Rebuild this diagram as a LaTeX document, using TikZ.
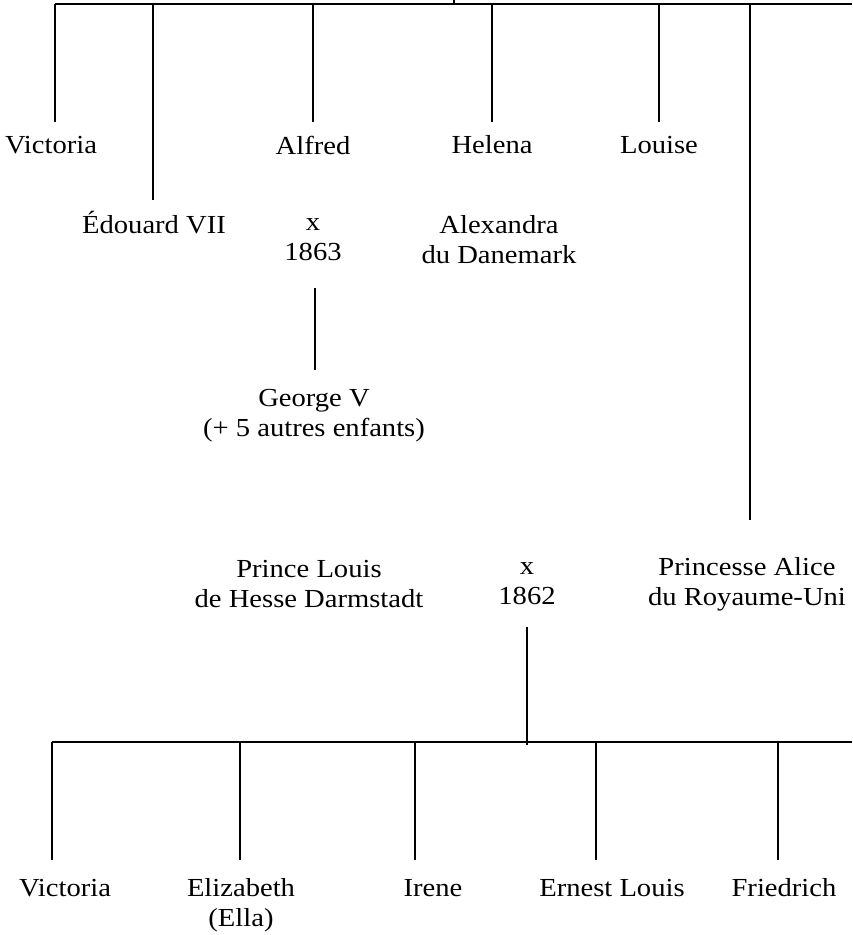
\documentclass[tikz,border=0pt]{standalone}
\usepackage{fontspec}
\setmainfont[FakeStretch=1.1]{Liberation Serif}
\begin{document}
\begin{tikzpicture}[x=1pt,y=-1pt,
  conn/.style={line width=1.2pt,draw=black},
  lbl/.style={font=\fontsize{26}{30}\selectfont,align=center,inner sep=0pt,anchor=center}]
\useasboundingbox (0,0) rectangle (852,935);
% generation 1 labels
\node[lbl] (vic)  at (51,145)  {Victoria};
\node[lbl] (alf)  at (313,145) {Alfred};
\node[lbl] (hel)  at (492,145) {Helena};
\node[lbl] (lou)  at (659,145) {Louise};
\node[lbl] (edo)  at (154,223) {Édouard VII};
\node[lbl] (m1)   at (313,240) {x\\1863};
\node[lbl] (alex) at (499,240) {Alexandra\\du Danemark};
\node[lbl] (geo)  at (314,416) {George V\\(+ 5 autres enfants)};
\node[lbl] (pl)   at (309,584) {Prince Louis\\de Hesse Darmstadt};
\node[lbl] (m2)   at (527,584) {x\\1862};
\node[lbl] (ali)  at (747,584) {Princesse Alice\\du Royaume-Uni};
% generation 3 labels
\node[lbl] (c1) at (65,888)  {Victoria};
\node[lbl] (c2) at (241,905) {Elizabeth\\(Ella)};
\node[lbl] (c3) at (433,888) {Irene};
\node[lbl] (c4) at (612,888) {Ernest Louis};
\node[lbl] (c5) at (784,888) {Friedrich};
% top bar
\coordinate (tL) at (55,4);
\coordinate (tR) at (852,4);
\coordinate (tick) at (454,0);
\draw[conn] (tL) -- (tR);
\draw[conn] (tick) -- (tick |- tL);
\coordinate (eVic) at (55,122);
\coordinate (eEdo) at (153,200);
\coordinate (eAlf) at (313,122);
\coordinate (eHel) at (492,122);
\coordinate (eLou) at (659,122);
\coordinate (eAli) at (750,520);
\foreach \e in {eVic,eEdo,eAlf,eHel,eLou,eAli}
  \draw[conn] (\e |- tL) -- (\e);
% George V line
\coordinate (g1) at (315,288);
\coordinate (g2) at (315,370);
\draw[conn] (g1) -- (g2);
% 1862 descent
\coordinate (d1) at (527,627);
\coordinate (d2) at (527,745);
\draw[conn] (d1) -- (d2);
% bottom bar
\coordinate (bL) at (52,742);
\coordinate (bR) at (852,742);
\draw[conn] (bL) -- (bR);
\coordinate (k1) at (52,860);
\coordinate (k2) at (240,860);
\coordinate (k3) at (415,860);
\coordinate (k4) at (596,860);
\coordinate (k5) at (778,860);
\foreach \k in {k1,k2,k3,k4,k5}
  \draw[conn] (\k |- bL) -- (\k);
\end{tikzpicture}
\end{document}
